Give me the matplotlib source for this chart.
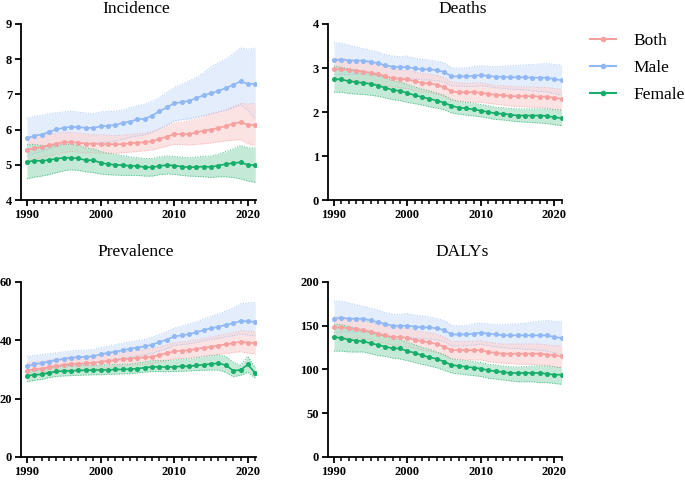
import numpy as np
import matplotlib.pyplot as plt
from matplotlib.ticker import MultipleLocator
from matplotlib.lines import Line2D

plt.rcParams['font.family'] = ['Liberation Serif', 'DejaVu Serif']

years = np.arange(1990, 2022)

# ── Incidence ────────────────────────────────────────────────────────────────
inc_male = [5.75, 5.83, 5.86, 5.93, 6.01, 6.05, 6.08, 6.07, 6.05, 6.05, 6.09, 6.11, 6.13, 6.19, 6.23, 6.29,
            6.31, 6.40, 6.52, 6.63, 6.75, 6.78, 6.82, 6.89, 6.98, 7.03, 7.10, 7.18, 7.27, 7.37, 7.30, 7.30]
inc_male_hi = [6.32, 6.38, 6.40, 6.45, 6.48, 6.50, 6.52, 6.50, 6.47, 6.45, 6.50, 6.52, 6.52, 6.56, 6.62, 6.68,
               6.72, 6.80, 6.92, 7.05, 7.20, 7.28, 7.38, 7.48, 7.62, 7.78, 7.90, 8.00, 8.15, 8.32, 8.28, 8.32]
inc_male_lo = [5.25, 5.32, 5.38, 5.45, 5.52, 5.58, 5.62, 5.62, 5.60, 5.60, 5.63, 5.65, 5.68, 5.72, 5.78, 5.82,
               5.85, 5.92, 6.02, 6.12, 6.25, 6.28, 6.30, 6.35, 6.40, 6.45, 6.50, 6.55, 6.62, 6.70, 6.55, 6.30]
inc_both = [5.42, 5.47, 5.50, 5.55, 5.60, 5.64, 5.65, 5.63, 5.60, 5.60, 5.59, 5.59, 5.58, 5.59, 5.61, 5.63,
            5.64, 5.67, 5.74, 5.80, 5.87, 5.87, 5.87, 5.92, 5.97, 6.00, 6.05, 6.10, 6.17, 6.21, 6.14, 6.13]
inc_both_hi = [5.75, 5.80, 5.85, 5.88, 5.90, 5.92, 5.92, 5.90, 5.87, 5.85, 5.85, 5.84, 5.83, 5.84, 5.86, 5.88,
               5.90, 5.94, 6.02, 6.10, 6.20, 6.22, 6.25, 6.30, 6.38, 6.45, 6.50, 6.55, 6.65, 6.75, 6.72, 6.75]
inc_both_lo = [5.10, 5.15, 5.20, 5.25, 5.30, 5.35, 5.38, 5.36, 5.34, 5.34, 5.33, 5.33, 5.33, 5.34, 5.36, 5.38,
               5.40, 5.42, 5.48, 5.53, 5.58, 5.58, 5.56, 5.58, 5.60, 5.62, 5.65, 5.68, 5.70, 5.72, 5.60, 5.55]
inc_female = [5.08, 5.12, 5.11, 5.14, 5.17, 5.20, 5.20, 5.18, 5.13, 5.13, 5.06, 5.02, 5.00, 4.99, 4.97, 4.97,
              4.93, 4.93, 4.97, 4.99, 4.98, 4.95, 4.93, 4.94, 4.95, 4.94, 4.98, 5.02, 5.05, 5.07, 5.00, 4.99]
inc_female_hi = [5.58, 5.58, 5.55, 5.55, 5.55, 5.58, 5.58, 5.55, 5.48, 5.45, 5.38, 5.33, 5.30, 5.26, 5.22, 5.20,
                 5.18, 5.18, 5.22, 5.25, 5.24, 5.22, 5.20, 5.22, 5.24, 5.25, 5.30, 5.38, 5.45, 5.55, 5.48, 5.48]
inc_female_lo = [4.60, 4.65, 4.68, 4.72, 4.78, 4.83, 4.86, 4.84, 4.80, 4.78, 4.74, 4.72, 4.71, 4.70, 4.70, 4.70,
                 4.68, 4.68, 4.72, 4.74, 4.73, 4.70, 4.68, 4.67, 4.66, 4.64, 4.66, 4.66, 4.64, 4.60, 4.54, 4.50]

# ── Deaths ───────────────────────────────────────────────────────────────────
dth_male = [3.18, 3.19, 3.17, 3.17, 3.17, 3.14, 3.11, 3.06, 3.03, 3.02, 3.02, 2.99, 2.97, 2.97, 2.95, 2.91,
            2.81, 2.81, 2.81, 2.82, 2.84, 2.82, 2.80, 2.80, 2.79, 2.79, 2.79, 2.78, 2.78, 2.78, 2.75, 2.72]
dth_male_hi = [3.58, 3.56, 3.52, 3.48, 3.44, 3.40, 3.36, 3.30, 3.27, 3.26, 3.27, 3.22, 3.20, 3.18, 3.15, 3.12,
               3.00, 3.00, 3.00, 3.03, 3.05, 3.04, 3.03, 3.04, 3.05, 3.06, 3.07, 3.08, 3.09, 3.10, 3.08, 3.07]
dth_male_lo = [2.85, 2.86, 2.85, 2.86, 2.87, 2.85, 2.83, 2.80, 2.78, 2.77, 2.77, 2.75, 2.73, 2.73, 2.71, 2.68,
               2.60, 2.59, 2.58, 2.58, 2.60, 2.58, 2.55, 2.54, 2.52, 2.51, 2.50, 2.48, 2.47, 2.45, 2.42, 2.38]
dth_both = [2.97, 2.98, 2.95, 2.94, 2.92, 2.89, 2.86, 2.81, 2.77, 2.75, 2.74, 2.70, 2.66, 2.65, 2.62, 2.56,
            2.47, 2.45, 2.45, 2.45, 2.44, 2.41, 2.39, 2.38, 2.36, 2.36, 2.36, 2.36, 2.35, 2.35, 2.32, 2.30]
dth_both_hi = [3.22, 3.22, 3.19, 3.17, 3.15, 3.12, 3.08, 3.02, 2.98, 2.96, 2.95, 2.91, 2.88, 2.86, 2.83, 2.78,
               2.68, 2.66, 2.65, 2.66, 2.66, 2.63, 2.60, 2.60, 2.58, 2.57, 2.57, 2.57, 2.56, 2.56, 2.53, 2.52]
dth_both_lo = [2.72, 2.74, 2.72, 2.71, 2.70, 2.67, 2.64, 2.60, 2.57, 2.55, 2.53, 2.49, 2.45, 2.44, 2.41, 2.35,
               2.27, 2.25, 2.24, 2.23, 2.22, 2.20, 2.18, 2.16, 2.14, 2.13, 2.12, 2.11, 2.10, 2.09, 2.06, 2.04]
dth_female = [2.75, 2.74, 2.70, 2.68, 2.66, 2.64, 2.60, 2.55, 2.50, 2.48, 2.43, 2.38, 2.34, 2.30, 2.26, 2.21,
              2.14, 2.10, 2.08, 2.06, 2.03, 2.00, 1.97, 1.96, 1.94, 1.92, 1.92, 1.92, 1.92, 1.91, 1.88, 1.86]
dth_female_hi = [3.05, 3.02, 2.98, 2.95, 2.92, 2.88, 2.83, 2.78, 2.72, 2.68, 2.63, 2.57, 2.52, 2.48, 2.43, 2.38,
                 2.28, 2.24, 2.22, 2.20, 2.17, 2.14, 2.11, 2.10, 2.08, 2.07, 2.07, 2.07, 2.07, 2.07, 2.05, 2.04]
dth_female_lo = [2.45, 2.45, 2.42, 2.41, 2.40, 2.38, 2.36, 2.32, 2.28, 2.26, 2.22, 2.19, 2.16, 2.12, 2.09, 2.05,
                 1.98, 1.95, 1.93, 1.91, 1.89, 1.86, 1.83, 1.82, 1.80, 1.78, 1.77, 1.76, 1.75, 1.74, 1.71, 1.69]

# ── Prevalence ───────────────────────────────────────────────────────────────
prv_male = [31.2, 31.8, 32.2, 32.7, 33.2, 33.6, 34.0, 34.2, 34.3, 34.5, 35.2, 35.7, 36.1, 36.6, 37.1, 37.5,
            37.9, 38.5, 39.4, 40.2, 41.3, 41.7, 42.1, 42.7, 43.5, 44.1, 44.6, 45.3, 45.8, 46.6, 46.5, 46.3]
prv_male_hi = [34.5, 34.8, 35.1, 35.4, 35.7, 36.0, 36.3, 36.5, 36.6, 36.8, 37.5, 38.0, 38.5, 39.0, 39.5, 39.9,
               40.3, 41.0, 42.0, 43.0, 44.2, 44.8, 45.5, 46.3, 47.3, 48.2, 49.0, 50.0, 51.0, 52.5, 52.8, 53.0]
prv_male_lo = [29.0, 29.5, 29.9, 30.3, 30.7, 31.1, 31.5, 31.7, 31.8, 32.0, 32.6, 33.1, 33.5, 33.9, 34.3, 34.7,
               35.0, 35.6, 36.4, 37.2, 38.2, 38.5, 38.8, 39.2, 39.8, 40.3, 40.7, 41.2, 41.6, 42.2, 41.8, 41.5]
prv_both = [29.6, 30.0, 30.3, 30.8, 31.2, 31.6, 31.9, 32.0, 32.1, 32.3, 32.6, 32.9, 33.2, 33.5, 33.7, 34.0,
            34.1, 34.4, 35.0, 35.6, 36.2, 36.4, 36.6, 37.0, 37.4, 37.8, 38.2, 38.6, 39.0, 39.5, 39.2, 39.0]
prv_both_hi = [32.2, 32.5, 32.8, 33.2, 33.6, 34.0, 34.3, 34.4, 34.5, 34.7, 35.0, 35.3, 35.7, 36.0, 36.3, 36.6,
               36.8, 37.2, 37.8, 38.4, 39.1, 39.4, 39.7, 40.1, 40.6, 41.1, 41.6, 42.1, 42.6, 43.3, 43.2, 43.0]
prv_both_lo = [27.5, 27.8, 28.1, 28.5, 28.9, 29.3, 29.6, 29.7, 29.8, 30.0, 30.3, 30.6, 30.9, 31.2, 31.4, 31.6,
               31.7, 32.0, 32.6, 33.1, 33.6, 33.8, 34.0, 34.3, 34.6, 34.9, 35.2, 35.5, 35.8, 36.1, 35.6, 35.3]
prv_female = [27.8, 28.2, 28.3, 28.9, 29.3, 29.5, 29.5, 29.7, 29.7, 29.8, 29.8, 29.8, 30.0, 30.0, 30.1, 30.3,
              30.6, 30.9, 30.9, 30.8, 30.9, 31.1, 31.1, 31.4, 31.6, 31.9, 32.1, 31.5, 29.6, 29.8, 31.7, 28.7]
prv_female_hi = [29.8, 30.0, 30.2, 30.6, 31.0, 31.2, 31.3, 31.4, 31.4, 31.5, 31.5, 31.6, 31.7, 31.8, 31.9, 32.2,
                 32.6, 33.0, 33.1, 33.0, 33.2, 33.5, 33.6, 34.0, 34.3, 34.7, 35.0, 34.5, 32.5, 31.5, 34.5, 30.5]
prv_female_lo = [25.8, 26.3, 26.6, 27.2, 27.6, 27.8, 27.9, 28.0, 28.1, 28.2, 28.2, 28.3, 28.4, 28.5, 28.6, 28.8,
                 29.1, 29.3, 29.3, 29.2, 29.3, 29.4, 29.5, 29.6, 29.7, 29.8, 29.8, 29.0, 27.5, 28.0, 29.0, 27.0]

# ── DALYs ────────────────────────────────────────────────────────────────────
dal_male = [158, 159, 158, 158, 158, 156, 154, 152, 150, 150, 150, 149, 148, 148, 147, 145,
            140, 140, 140, 141, 142, 141, 140, 139, 139, 139, 139, 139, 139, 139, 137, 136]
dal_male_hi = [178, 178, 176, 174, 172, 170, 168, 165, 163, 163, 164, 162, 161, 160, 158, 156,
               150, 150, 150, 152, 153, 152, 151, 151, 152, 152, 153, 154, 155, 156, 155, 155]
dal_male_lo = [142, 143, 143, 143, 143, 142, 140, 138, 137, 137, 137, 136, 135, 135, 134, 132,
               127, 127, 127, 128, 129, 127, 126, 125, 124, 124, 123, 123, 122, 121, 119, 117]
dal_both = [148, 148, 147, 146, 145, 143, 141, 139, 137, 137, 136, 134, 132, 131, 129, 126,
            122, 122, 122, 122, 122, 120, 119, 118, 118, 118, 118, 118, 118, 117, 116, 115]
dal_both_hi = [160, 160, 158, 157, 156, 154, 152, 150, 148, 148, 147, 145, 143, 142, 140, 137,
               132, 132, 132, 132, 133, 131, 130, 129, 129, 129, 129, 129, 129, 128, 127, 127]
dal_both_lo = [137, 137, 136, 136, 135, 134, 132, 130, 128, 127, 126, 124, 122, 121, 119, 116,
               112, 112, 111, 111, 111, 109, 108, 107, 107, 106, 106, 106, 105, 105, 103, 102]
dal_female = [137, 136, 134, 133, 132, 130, 128, 126, 124, 124, 121, 119, 116, 114, 112, 109,
              105, 104, 103, 102, 101, 99, 98, 97, 96, 96, 96, 96, 96, 95, 94, 94]
dal_female_hi = [152, 151, 149, 147, 145, 143, 140, 138, 135, 134, 131, 128, 125, 123, 120, 117,
                 112, 111, 110, 109, 108, 106, 105, 104, 103, 103, 103, 104, 104, 104, 103, 102]
dal_female_lo = [121, 121, 120, 120, 120, 118, 116, 115, 113, 112, 110, 108, 106, 104, 102, 99,
                 96, 95, 94, 93, 92, 90, 89, 88, 87, 86, 86, 86, 85, 85, 84, 83]

# ── style ────────────────────────────────────────────────────────────────────
colors = {'Male':   ('#8fb8f5', '#dce8fb'),
          'Both':   ('#f7a0a0', '#fbdada'),
          'Female': ('#17ad6a', '#b0e4ca')}

W, H = 685, 480

# title, (ymin, ymax, step), axes rect, title position (px from top-left)
panels = [
    ('Incidence', (4, 9, 1), [0.0307, 0.5833, 0.343, 0.3667], (136, 1),
     {'Male': (inc_male, inc_male_lo, inc_male_hi),
      'Both': (inc_both, inc_both_lo, inc_both_hi),
      'Female': (inc_female, inc_female_lo, inc_female_hi)}),
    ('Deaths', (0, 4, 1), [0.479, 0.5833, 0.342, 0.3667], (463, 1),
     {'Male': (dth_male, dth_male_lo, dth_male_hi),
      'Both': (dth_both, dth_both_lo, dth_both_hi),
      'Female': (dth_female, dth_female_lo, dth_female_hi)}),
    ('Prevalence', (0, 60, 20), [0.0307, 0.048, 0.343, 0.3646], (136, 244),
     {'Male': (prv_male, prv_male_lo, prv_male_hi),
      'Both': (prv_both, prv_both_lo, prv_both_hi),
      'Female': (prv_female, prv_female_lo, prv_female_hi)}),
    ('DALYs', (0, 200, 50), [0.479, 0.048, 0.342, 0.3646], (462, 244),
     {'Male': (dal_male, dal_male_lo, dal_male_hi),
      'Both': (dal_both, dal_both_lo, dal_both_hi),
      'Female': (dal_female, dal_female_lo, dal_female_hi)}),
]

fig = plt.figure(figsize=(W / 100, H / 100), dpi=100)

for title, (y0, y1, ystep), rect, (tx, ty), series in panels:
    ax = fig.add_axes(rect)
    for name in ['Male', 'Both', 'Female']:
        mid, lo, hi = series[name]
        lc, fc = colors[name]
        ax.fill_between(years, lo, hi, color=fc, alpha=0.75, lw=0, zorder=1)
        ax.plot(years, lo, color=lc, lw=0.7, ls=':', alpha=0.8, zorder=2)
        ax.plot(years, hi, color=lc, lw=0.7, ls=':', alpha=0.8, zorder=2)
    for name in ['Male', 'Both', 'Female']:
        mid = series[name][0]
        lc = colors[name][0]
        ax.plot(years, mid, color=lc, lw=1.2, marker='o', ms=2.6, zorder=3)

    ax.set_xlim(1989.2, 2021.1)
    ax.set_ylim(y0, y1)
    ax.set_yticks(np.arange(y0, y1 + ystep / 2, ystep))
    ax.set_xticks([1990, 2000, 2010, 2020])
    ax.xaxis.set_minor_locator(MultipleLocator(1))
    for sp in ['top', 'right']:
        ax.spines[sp].set_visible(False)
    for sp in ['left', 'bottom']:
        ax.spines[sp].set_linewidth(1.3)
    ax.tick_params(axis='both', which='major', direction='out', length=4.5, width=1.3,
                   labelsize=9, pad=2)
    ax.tick_params(axis='x', which='minor', direction='out', length=3, width=1.1)
    for lab in ax.get_xticklabels() + ax.get_yticklabels():
        lab.set_fontweight('bold')
    fig.text(tx / W, 1 - ty / H, title, fontsize=12.5, ha='center', va='top')

handles = [Line2D([], [], color=colors[n][0], lw=1.5, marker='o', ms=3) for n in ['Both', 'Male', 'Female']]
fig.legend(handles, ['Both', 'Male', 'Female'], loc='upper left', bbox_to_anchor=(0.838, 0.965),
           frameon=False, fontsize=12.5, handlelength=1.5, handletextpad=1.05, labelspacing=0.65)

plt.savefig('out.png', dpi=100)
